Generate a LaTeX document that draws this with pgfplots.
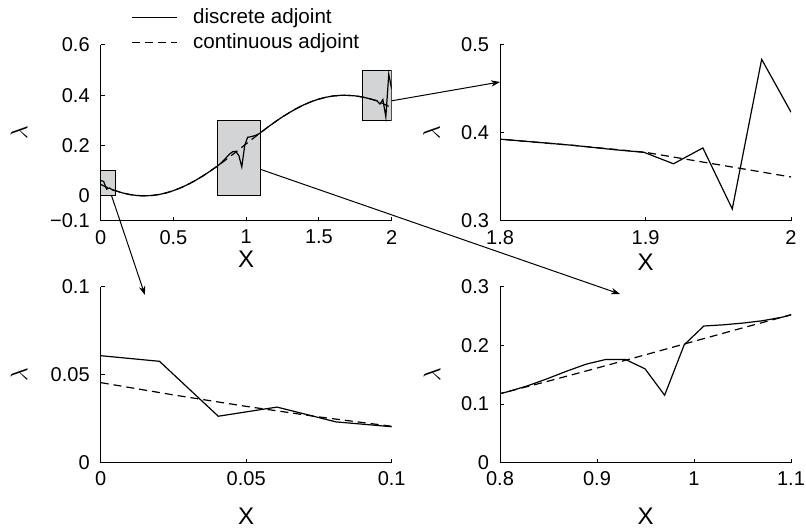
\documentclass[border=0pt]{standalone}
\usepackage{fontspec}
\setmainfont{Liberation Sans}
\usepackage{pgfplots}
\pgfplotsset{compat=1.18}
\usepackage{pgfplotstable}
\usetikzlibrary{arrows.meta}
\definecolor{boxgray}{RGB}{211,212,214}

% discrete adjoint (grid h = 2/99 near the kinks)
\pgfplotstableread{
x y
0 0.0608
0.0202 0.0576
0.0404 0.0264
0.0606 0.0316
0.0808 0.0232
0.1010 0.0203
0.15 0.0117
0.2 0.0052
0.25 0.0013
0.3 0.0
0.35 0.0013
0.4 0.0052
0.45 0.0117
0.5 0.0207
0.55 0.0320
0.6 0.0455
0.65 0.0610
0.7 0.0783
0.75 0.0973
0.7879 0.1128
0.8081 0.1210
0.8283 0.1310
0.8485 0.1430
0.8687 0.1560
0.8889 0.1680
0.9091 0.1760
0.9293 0.1760
0.9495 0.1600
0.9697 0.1150
0.9899 0.2010
1.0101 0.2330
1.0303 0.2350
1.0505 0.2380
1.0707 0.2420
1.0909 0.2480
1.1111 0.2570
1.15 0.2739
1.2 0.2946
1.25 0.3144
1.3 0.3322
1.35 0.3486
1.4 0.3630
1.45 0.3752
1.5 0.3850
1.55 0.3924
1.6 0.3974
1.65 0.3998
1.7 0.3996
1.75 0.3975
1.8 0.3930
1.85 0.3860
1.8788 0.3810
1.8990 0.3780
1.9192 0.3650
1.9394 0.3830
1.9596 0.3137
1.9798 0.4837
2.0 0.4236
}\discrete

% continuous adjoint
\pgfplotstableread{
x y
0 0.0455
0.025 0.0385
0.05 0.0320
0.075 0.0260
0.1 0.0207
0.15 0.0117
0.2 0.0052
0.25 0.0013
0.3 0.0
0.35 0.0013
0.4 0.0052
0.45 0.0117
0.5 0.0207
0.55 0.0320
0.6 0.0455
0.65 0.0610
0.7 0.0783
0.75 0.0973
0.8 0.1177
0.85 0.1391
0.9 0.1613
0.95 0.1840
1.0 0.2069
1.05 0.2297
1.1 0.2521
1.15 0.2739
1.2 0.2946
1.25 0.3144
1.3 0.3322
1.35 0.3486
1.4 0.3630
1.45 0.3752
1.5 0.3850
1.55 0.3924
1.6 0.3974
1.65 0.3998
1.7 0.3996
1.75 0.3975
1.8 0.3930
1.85 0.3860
1.9 0.3780
1.95 0.3640
2.0 0.3500
}\continuous

\pgfplotsset{
  panel/.style={
    scale only axis, width=145.5pt, height=88pt, anchor=south west,
    axis x line*=bottom, axis y line*=left,
    axis line style={line width=0.5pt},
    tick align=inside, major tick length=2pt,
    tick style={line width=0.5pt, black},
    scaled ticks=false,
    /pgf/number format/assume math mode=true,
    /pgf/number format/fixed,
    tick label style={font=\fontsize{10}{12}\selectfont},
    yticklabel style={xshift=-2pt},
    xticklabel style={yshift=-1pt},
    label style={font=\fontsize{12}{14}\selectfont},
    xlabel={X}, ylabel={$\lambda$},
  },
  sol/.style={black, line width=0.6pt},
  das/.style={black, line width=0.6pt, dash pattern=on 4pt off 2.5pt},
}

\begin{document}
\begin{tikzpicture}
\path[use as bounding box] (0,0) rectangle (403pt,264pt);

% main
\begin{axis}[panel, at={(50.35pt,153.5pt)},
  xmin=0, xmax=2, ymin=-0.1, ymax=0.6,
  xtick={0,0.5,1,1.5,2},
  ytick={-0.1,0,0.2,0.4,0.6}, yticklabels={−0.1,0,0.2,0.4,0.6},
  xlabel style={at={(axis description cs:0.5,-0.22)}, anchor=center},
  ylabel style={at={(axis description cs:-0.281,0.5)}, anchor=center},
  legend style={at={(axis description cs:0.082,1.255)}, anchor=north west,
    draw=none, fill=none, font=\fontsize{10.3}{12}\selectfont, row sep=-0.5pt},
  legend cell align=left,
  legend image code/.code={\draw[#1] (0pt,0pt) -- (22.5pt,0pt); \path (28.5pt,0pt);},
]
\draw[fill=boxgray, line width=0.5pt] (axis cs:0,0) rectangle (axis cs:0.1,0.1);
\draw[fill=boxgray, line width=0.5pt] (axis cs:0.8,0) rectangle (axis cs:1.1,0.3);
\draw[fill=boxgray, line width=0.5pt] (axis cs:1.8,0.3) rectangle (axis cs:2,0.5);
\addplot[sol] table {\discrete};
\addlegendentry{discrete adjoint}
\addplot[das] table {\continuous};
\addlegendentry{continuous adjoint}
\coordinate (a1) at (axis cs:0.075,0);
\coordinate (a2) at (axis cs:1.1,0.105);
\coordinate (a3) at (axis cs:2,0.378);
\end{axis}

% top right
\begin{axis}[panel, at={(250pt,153.5pt)},
  xmin=1.8, xmax=2, ymin=0.3, ymax=0.5,
  xtick={1.8,1.9,2}, ytick={0.3,0.4,0.5},
  xlabel style={at={(axis description cs:0.5,-0.234)}, anchor=center},
  ylabel style={at={(axis description cs:-0.235,0.5)}, anchor=center},
]
\addplot[sol] table {\discrete};
\addplot[das] table {\continuous};
\coordinate (b3) at (axis cs:1.8,0.458);
\end{axis}

% bottom left
\begin{axis}[panel, at={(50.35pt,32.65pt)},
  xmin=0, xmax=0.1, ymin=0, ymax=0.1,
  xtick={0,0.05,0.1}, ytick={0,0.05,0.1},
  xlabel style={at={(axis description cs:0.5,-0.305)}, anchor=center},
  ylabel style={at={(axis description cs:-0.281,0.5)}, anchor=center},
]
\addplot[sol] table {\discrete};
\addplot[das] table {\continuous};
\coordinate (b1) at (axis cs:0.0152,0.0953);
\end{axis}

% bottom right
\begin{axis}[panel, at={(250pt,32.65pt)},
  xmin=0.8, xmax=1.1, ymin=0, ymax=0.3,
  xtick={0.8,0.9,1,1.1}, ytick={0,0.1,0.2,0.3},
  xlabel style={at={(axis description cs:0.5,-0.305)}, anchor=center},
  ylabel style={at={(axis description cs:-0.234,0.5)}, anchor=center},
]
\addplot[sol] table {\discrete};
\addplot[das] table {\continuous};
\coordinate (b2) at (axis cs:0.9237,0.2875);
\end{axis}

\draw[-{Stealth[length=4.5pt,width=3.2pt]}, line width=0.5pt] (a1) -- (b1);
\draw[-{Stealth[length=4.5pt,width=3.2pt]}, line width=0.5pt] (a2) -- (b2);
\draw[-{Stealth[length=4.5pt,width=3.2pt]}, line width=0.5pt] (a3) -- (b3);
\end{tikzpicture}
\end{document}
